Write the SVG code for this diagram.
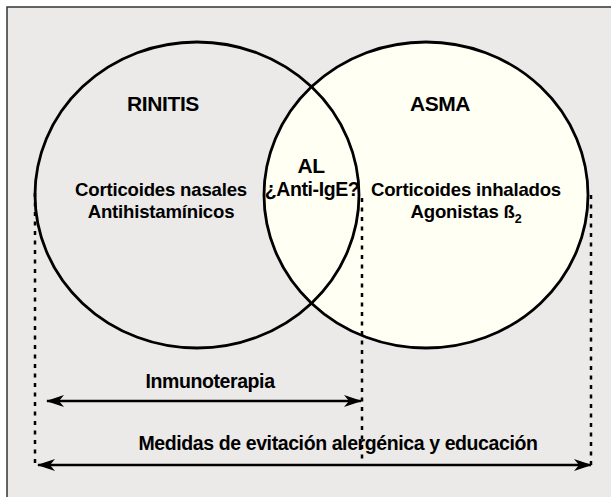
<svg xmlns="http://www.w3.org/2000/svg" width="611" height="497" viewBox="0 0 611 497">
<style>
.t{font-family:"Liberation Sans",Arial,Helvetica,sans-serif;font-weight:bold;font-size:19.5px;letter-spacing:-0.4px;fill:#000;text-anchor:middle}
.h{font-size:21px}
.m{font-size:18.6px;letter-spacing:-0.2px}
.c{stroke:#000;stroke-width:2.8}
.d{stroke:#000;stroke-width:2.5;stroke-dasharray:4 5.5;fill:none}
.a{stroke:#000;stroke-width:2.7;fill:none}
</style>
<defs>
<marker id="ah" viewBox="0 0 18 12" refX="17" refY="6" markerWidth="18" markerHeight="12" markerUnits="userSpaceOnUse" orient="auto-start-reverse">
<path d="M0,0 L18,6 L0,12 L5,6 Z" fill="#000"/>
</marker>
</defs>
<rect x="7" y="7" width="640" height="520" fill="#ebeae9" stroke="#333" stroke-width="1.5"/>
<g id="asma">
<ellipse cx="426" cy="195" rx="162" ry="153" fill="#fffff3" class="c"/>
</g>
<g id="rinitis">
<ellipse cx="197" cy="195" rx="162" ry="153" fill="none" class="c"/>
</g>
<g id="connectors">
<line x1="35" y1="193" x2="35" y2="465" class="d"/>
<line x1="362" y1="198" x2="362" y2="465" class="d"/>
<line x1="591" y1="195" x2="591" y2="465" class="d"/>
<line x1="47" y1="401" x2="361" y2="401" class="a" marker-start="url(#ah)" marker-end="url(#ah)"/>
<line x1="38" y1="465" x2="591" y2="465" class="a" marker-start="url(#ah)" marker-end="url(#ah)"/>
</g>
<g id="labels">
<text class="t h" x="163" y="111">RINITIS</text>
<text class="t h" x="440" y="111">ASMA</text>
<text class="t h" x="311" y="173">AL</text>
<text class="t" x="312" y="196">¿Anti-IgE?</text>
<text class="t m" x="161" y="196">Corticoides nasales</text>
<text class="t m" x="161" y="217.5">Antihistamínicos</text>
<text class="t m" x="466" y="196">Corticoides inhalados</text>
<text class="t m" x="466" y="217.5">Agonistas ß<tspan font-size="12.5" dy="5">2</tspan></text>
<text class="t" x="210" y="388">Inmunoterapia</text>
<text class="t" x="338" y="450">Medidas de evitación alergénica y educación</text>
</g>
</svg>
